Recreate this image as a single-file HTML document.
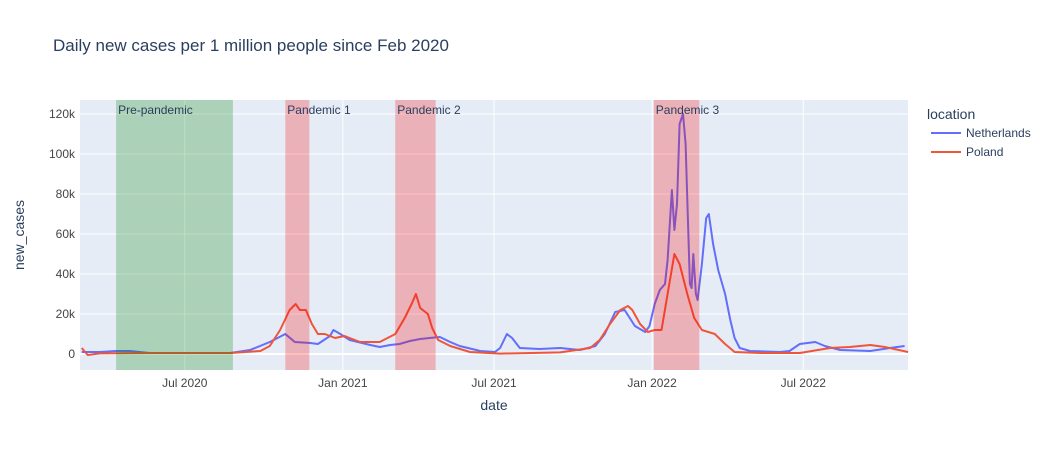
<!DOCTYPE html>
<html><head><meta charset="utf-8"><style>
body{margin:0;background:#fff;font-family:"Liberation Sans",Arial,sans-serif}
svg text{font-family:"Liberation Sans",Arial,sans-serif}
</style></head><body>
<svg id="c" width="1056" height="450" xmlns="http://www.w3.org/2000/svg">
<rect width="1056" height="450" fill="#fff"/>
<text x="53" y="51" font-size="17" fill="#2a3f5f">Daily new cases per 1 million people since Feb 2020</text>
<rect x="80" y="100" width="828" height="270" fill="#E5ECF6"/>
<g id="grid"></g><g id="lines"></g><g id="shapes"></g><g id="axes"></g>
<text x="494" y="410" font-size="14" fill="#2a3f5f" text-anchor="middle">date</text>
<text transform="translate(24,235) rotate(-90)" font-size="14" fill="#2a3f5f" text-anchor="middle">new_cases</text>
<g>
<text x="927" y="119" font-size="14" fill="#2a3f5f">location</text>
<g><line x1="931" y1="133" x2="961" y2="133" stroke="#636efa" stroke-width="2"/><text x="966" y="137" font-size="12" fill="#2a3f5f">Netherlands</text></g>
<g><line x1="931" y1="152" x2="961" y2="152" stroke="#EF553B" stroke-width="2"/><text x="966" y="156" font-size="12" fill="#2a3f5f">Poland</text></g>
</g>
</svg>
<script>
const nlDays=[2,23,42,58,81,175,198,221,239,250,268,277,291,295,303,314,338,349,361,372,384,396,407,419,431,442,466,483,489,497,503,512,535,559,582,600,611,623,634,646,658,663,669,675,681,684,689,692,695,698,702,705,710,712,714,717,719,724,729,732,737,743,751,757,762,768,780,815,826,838,856,867,885,920,943,960];
const nlVals=[1000,1000,1500,1500,500,500,2000,6000,10000,6000,5500,5000,9000,12000,10000,7000,4500,3500,4500,5000,6500,7500,8000,8500,6000,4000,1500,1000,3000,10000,8000,3000,2500,3000,2000,4000,10000,21000,22000,14000,11000,14000,25000,32000,35000,47000,82000,62000,75000,115000,120000,105000,35000,33000,50000,30000,27000,45000,68000,70000,55000,42000,30000,17000,8000,3000,1500,1000,1500,5000,6000,4000,2000,1500,3000,4000];
const plDays=[2,9,23,81,175,210,221,233,244,251,256,263,270,277,285,297,308,314,326,349,367,378,386,391,396,405,410,417,431,454,489,559,594,605,617,629,638,643,652,661,669,677,684,692,698,707,715,724,739,751,762,792,838,873,896,920,937,964];
const plVals=[3000,-500,300,500,500,1500,4000,12000,22000,25000,22000,22000,15000,10000,10000,8000,9000,8000,6000,6000,10000,18000,25000,30000,23000,20000,13000,7000,4000,1000,200,800,3000,7000,15000,22000,24000,22000,15000,11000,12000,12000,30000,50000,45000,30000,18000,12000,10000,5000,1000,500,500,3000,3500,4500,3500,1000];
const yTicks=[0,20000,40000,60000,80000,100000,120000];
const yTickLabels=["0","20k","40k","60k","80k","100k","120k"];
const xTickDays=[122,306,482,666,842];
const xTickLabels=["Jul 2020","Jan 2021","Jul 2021","Jan 2022","Jul 2022"];
const periodNames=["Pre-pandemic","Pandemic 1","Pandemic 2","Pandemic 3"];
const periodStart=[42,239,367,668];
const periodEnd=[178,267,414,721];
const periodColor=["green","red","red","red"];
const X=d=>80+d*0.859, Y=v=>354-v*0.002;
const NS="http://www.w3.org/2000/svg";
function mk(t,a,p){const e=document.createElementNS(NS,t);for(const k in a)e.setAttribute(k,a[k]);document.getElementById(p).appendChild(e);return e;}
yTicks.forEach((v,i)=>{
 const g=mk('line',{x1:80,x2:908,y1:Y(v),y2:Y(v),stroke:'#fff','stroke-width':v===0?2:1},'grid');
 
 
 const t=mk('text',{x:75,y:Y(v)+4,'font-size':12,fill:'#444','text-anchor':'end'},'axes');t.textContent=yTickLabels[i];
 
 
});
xTickDays.forEach((d,i)=>{
 const g=mk('line',{x1:X(d),x2:X(d),y1:100,y2:370,stroke:'#fff','stroke-width':1},'grid');
 
 
 const t=mk('text',{x:X(d),y:387,'font-size':12,fill:'#444','text-anchor':'middle'},'axes');t.textContent=xTickLabels[i];
 
 
});
function line(ds,vs,col,name){
 const p=mk('path',{d:ds.map((d,i)=>(i?'L':'M')+X(d).toFixed(1)+','+Y(vs[i]).toFixed(1)).join(''),fill:'none',stroke:col,'stroke-width':2,'stroke-linejoin':'round'},'lines');
 
 
}
line(nlDays,nlVals,'#636efa','line-netherlands');
line(plDays,plVals,'#EF553B','line-poland');
periodNames.forEach((n,i)=>{
 const r=mk('rect',{x:X(periodStart[i]),y:100,width:X(periodEnd[i])-X(periodStart[i]),height:270,fill:periodColor[i],opacity:0.25},'shapes');
 
 
 const t=mk('text',{x:X(periodStart[i])+2,y:114,'font-size':12,fill:'#2a3f5f'},'shapes');t.textContent=n;
 
 
});
</script>
</body></html>
